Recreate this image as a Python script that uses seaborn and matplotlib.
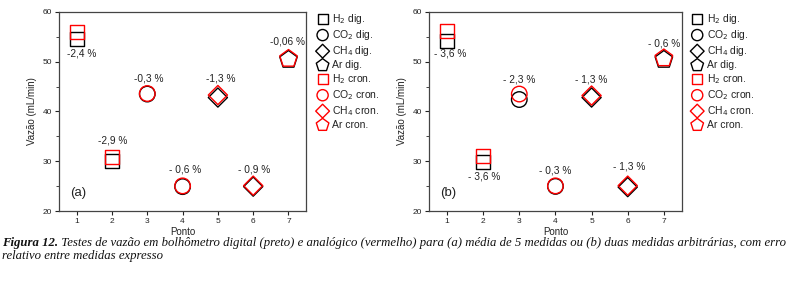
import matplotlib
matplotlib.use("Agg")
import matplotlib.pyplot as plt
import seaborn as sns
import pandas as pd

sns.set_theme(style="white")
plt.rcParams["font.family"] = ["Liberation Sans", "DejaVu Sans"]

# ---------------- data ----------------
points = [1, 2, 3, 4, 5, 6, 7]
gases = ["H2", "H2", "CO2", "CO2", "CH4", "CH4", "Ar"]

# panel (a): mean of 5 measurements
dig_a = [54.6, 30.0, 43.5, 24.9, 42.8, 24.9, 50.4]
cron_a = [55.9, 30.9, 43.6, 25.05, 43.3, 25.1, 50.6]
err_a = ["-2,4 %", "-2,9 %", "-0,3 %", "- 0,6 %", "-1,3 %", "- 0,9 %", "-0,06 %"]
err_a_x = [1.15, 2.02, 3.04, 4.06, 5.08, 6.04, 6.98]
err_a_y = [51.7, 34.1, 46.7, 28.4, 46.7, 28.4, 54.0]

# panel (b): two arbitrary measurements
dig_b = [54.1, 29.9, 42.4, 24.95, 42.8, 24.8, 50.4]
cron_b = [56.1, 31.0, 43.5, 25.05, 43.2, 25.1, 50.7]
err_b = ["- 3,6 %", "- 3,6 %", "- 2,3 %", "- 0,3 %", "- 1,3 %", "- 1,3 %", "- 0,6 %"]
err_b_x = [1.09, 2.03, 3.0, 4.0, 5.0, 6.03, 7.0]
err_b_y = [51.7, 27.0, 46.4, 28.2, 46.4, 29.0, 53.7]

gas_order = ["H2", "CO2", "CH4", "Ar"]
gas_tex = {"H2": "H$_2$", "CO2": "CO$_2$", "CH4": "CH$_4$", "Ar": "Ar"}
gas_marker = {"H2": "s", "CO2": "o", "CH4": "D", "Ar": "p"}
gas_size = {"H2": 100, "CO2": 125, "CH4": 95, "Ar": 175}

caption_bold = "Figura 12."
caption_rest = (" Testes de vazão em bolhômetro digital (preto) e analógico (vermelho) "
                "para (a) média de 5 medidas ou (b) duas medidas arbitrárias, com erro")
caption_line2 = "relativo entre medidas expresso"

fig = plt.figure(figsize=(7.87, 2.84), dpi=100)
ax_a = fig.add_axes([0.075, 0.257, 0.314, 0.701])
ax_b = fig.add_axes([0.545, 0.257, 0.3215, 0.701])


def draw_panel(ax, dig, cron, errs, ex, ey, tag, leg_x):
    df = pd.DataFrame({"Ponto": points, "gas": gases, "dig": dig, "cron": cron})
    for kind, col in [("dig", "black"), ("cron", "red")]:
        for g in gas_order:
            sub = df[df["gas"] == g]
            sns.scatterplot(data=sub, x="Ponto", y=kind, ax=ax,
                            marker=gas_marker[g], s=gas_size[g],
                            facecolor="none", edgecolor=col, linewidth=1.0,
                            label=f"{gas_tex[g]} {kind}.")
    for t, x, y in zip(errs, ex, ey):
        ax.text(x, y, t, ha="center", va="center", fontsize=7.3, color="#222222")
    ax.text(0.045, 0.06, tag, transform=ax.transAxes, fontsize=9.5,
            ha="left", va="bottom", color="#222222")
    ax.set_xlim(0.5, 7.5)
    ax.set_ylim(20, 60)
    ax.set_xticks(points)
    ax.set_yticks([20, 30, 40, 50, 60])
    ax.set_yticks([25, 35, 45, 55], minor=True)
    ax.tick_params(axis="both", which="major", direction="out", length=3,
                   width=0.8, labelsize=6, pad=2, colors="#222222",
                   bottom=True, left=True)
    ax.tick_params(axis="y", which="minor", direction="out", length=2,
                   width=0.6, left=True)
    ax.set_xlabel("Ponto", fontsize=7, labelpad=1.5, color="#222222")
    ax.set_ylabel("Vazão (mL/min)", fontsize=7, labelpad=4, color="#222222")
    for sp in ax.spines.values():
        sp.set_color("#444444")
        sp.set_linewidth(0.9)
    ax.grid(False)
    leg = ax.legend(loc="upper left", bbox_to_anchor=(leg_x, 0.977),
                    bbox_transform=fig.transFigure, frameon=False,
                    fontsize=7.5, markerscale=0.72, handlelength=0.8,
                    handletextpad=0.5, labelspacing=0.2, borderpad=0)
    for txt in leg.get_texts():
        txt.set_color("#222222")


draw_panel(ax_a, dig_a, cron_a, err_a, err_a_x, err_a_y, "(a)", 0.398)
draw_panel(ax_b, dig_b, cron_b, err_b, err_b_x, err_b_y, "(b)", 0.874)

# caption: bold-italic lead followed by italic text
cap_kw = dict(family=["Liberation Serif", "DejaVu Serif"], style="italic",
              fontsize=9.2, va="center", ha="left", color="#111111")
t1 = fig.text(0.003, 1 - 243 / 284, caption_bold, fontweight="bold", **cap_kw)
fig.canvas.draw()
bb = t1.get_window_extent().transformed(fig.transFigure.inverted())
fig.text(bb.x1, 1 - 243 / 284, caption_rest, **cap_kw)
fig.text(0.003, 1 - 256 / 284, caption_line2, **cap_kw)

fig.savefig("out.png", dpi=100)
